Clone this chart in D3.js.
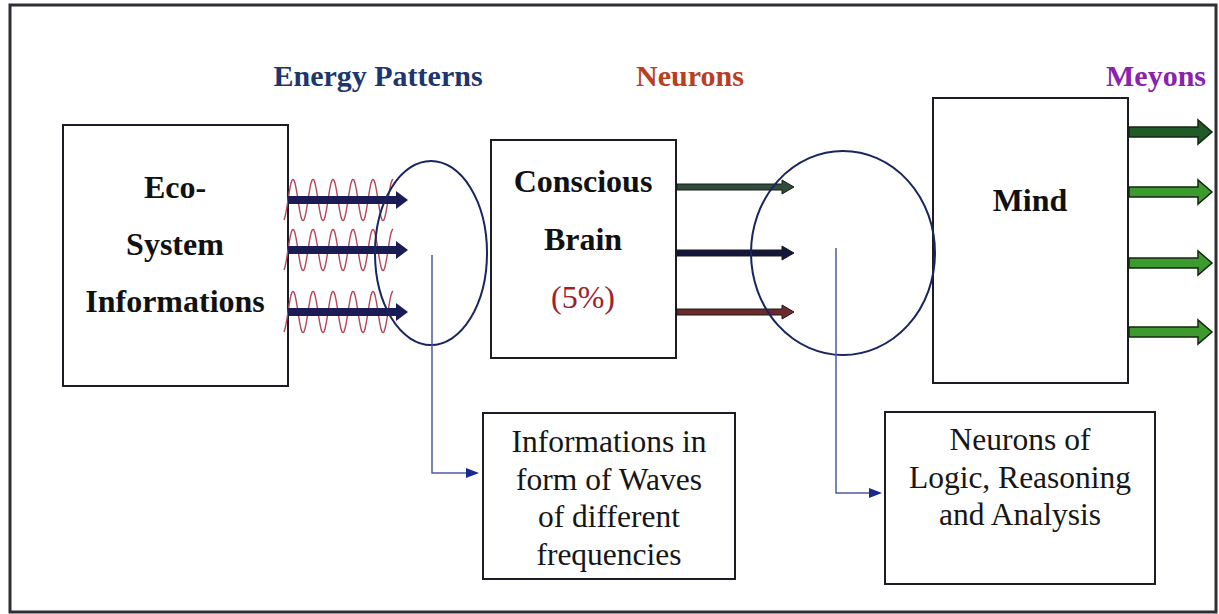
<!DOCTYPE html>
<html>
<head>
<meta charset="utf-8">
<script src="https://cdn.jsdelivr.net/npm/d3@7"></script>
<style>
  body { margin: 0; background: #fff; }
  text { font-family: "Liberation Serif", "Times New Roman", serif; }
</style>
</head>
<body>
<svg></svg>
<script>
// labels
var headers = ["Energy Patterns", "Neurons", "Meyons"];
var headerColors = ["#1d3570", "#b8401f", "#8a22b0"];
var ecoLines = ["Eco-", "System", "Informations"];
var brainLines = ["Conscious", "Brain"];
var brainShare = "(5%)";
var mindLines = ["Mind"];
var waveNote = ["Informations in", "form of Waves", "of different", "frequencies"];
var neuronNote = ["Neurons of", "Logic, Reasoning", "and Analysis"];

// arrow rows
var energyRows = ["wave 1", "wave 2", "wave 3"];
var neuronRows = ["logic", "reasoning", "analysis"];
var neuronColors = ["#2f4d3c", "#15163c", "#6c2a2a"];
var meyonRows = ["m1", "m2", "m3", "m4"];
var meyonColors = ["#1f5a27", "#3d9a2e", "#3d9a2e", "#3d9a2e"];

var screen = {width: 1219, height: 614};
var svg = d3.select("svg")
  .attr("width", screen.width)
  .attr("height", screen.height);

// layout
var energyY = d3.scaleOrdinal().domain(energyRows).range([200, 250, 312]);
var neuronY = d3.scaleOrdinal().domain(neuronRows).range([187, 253, 312]);
var meyonY = d3.scaleOrdinal().domain(meyonRows).range([132, 192, 263, 332]);

// outer frame
svg.append("rect")
  .attr("x", 10).attr("y", 5)
  .attr("width", 1206).attr("height", 607)
  .attr("fill", "none").attr("stroke", "#2e2e36").attr("stroke-width", 3);

// header labels
var headerX = d3.scaleOrdinal().domain(headers).range([378, 690, 1156]);
svg.selectAll(".hdr")
  .data(headers)
  .enter()
  .append("text")
  .attr("class", "hdr")
  .attr("x", function(d){ return headerX(d); })
  .attr("y", 86)
  .attr("text-anchor", "middle")
  .attr("font-size", 30)
  .attr("font-weight", "bold")
  .attr("fill", function(d, i){ return headerColors[i]; })
  .text(function(d){ return d; });

var drawBox = function(x, y, w, h){
  svg.append("rect")
    .attr("x", x).attr("y", y)
    .attr("width", w).attr("height", h)
    .attr("fill", "#fff").attr("stroke", "#1c1c24").attr("stroke-width", 2);
};

var drawLines = function(lines, cx, y0, step, size, weight, color){
  svg.append("g").selectAll("text")
    .data(lines)
    .enter()
    .append("text")
    .attr("x", cx)
    .attr("y", function(d, i){ return y0 + i * step; })
    .attr("text-anchor", "middle")
    .attr("font-size", size)
    .attr("font-weight", weight)
    .attr("fill", color)
    .text(function(d){ return d; });
};

// main boxes
drawBox(63, 125, 225, 261);
drawLines(ecoLines, 175, 198, 57, 32, "bold", "#111");

drawBox(491, 140, 185, 218);
drawLines(brainLines, 583, 192, 58, 32, "bold", "#111");
drawLines([brainShare], 583, 308, 0, 32, "normal", "#a0202c");

drawBox(933, 98, 195, 285);
drawLines(mindLines, 1030, 211, 0, 32, "bold", "#111");

// note boxes
drawBox(483, 413, 252, 166);
drawLines(waveNote, 609, 452, 37.5, 31.5, "normal", "#161616");

drawBox(885, 412, 270, 172);
drawLines(neuronNote, 1020, 450, 37.5, 31.5, "normal", "#161616");

// energy waves (drawn under the arrows)
var waveLine = d3.line().curve(d3.curveBasis);
energyRows.forEach(function(r){
  var y = energyY(r);
  var pts = d3.range(284, 394, 1).map(function(x){
    return [x, y - 21 * Math.cos((x - 293) / 20 * 2 * Math.PI)];
  });
  svg.append("path")
    .attr("d", waveLine(pts))
    .attr("fill", "none")
    .attr("stroke", "#b8475a")
    .attr("stroke-width", 1.4);
});

// energy arrows
svg.selectAll(".earrow")
  .data(energyRows)
  .enter()
  .append("g")
  .attr("class", "earrow")
  .each(function(r){
    var y = energyY(r);
    var g = d3.select(this);
    g.append("line")
      .attr("x1", 288).attr("x2", 399)
      .attr("y1", y).attr("y2", y)
      .attr("stroke", "#1b1b55").attr("stroke-width", 8);
    g.append("path")
      .attr("d", d3.line()([[396, y - 9], [408, y], [396, y + 9]]) + "Z")
      .attr("fill", "#1b1b55");
  });

// ellipses
svg.append("ellipse")
  .attr("cx", 431).attr("cy", 253).attr("rx", 56).attr("ry", 92)
  .attr("fill", "none").attr("stroke", "#1a2560").attr("stroke-width", 2);

// neuron arrows
var blockArrow = function(x0, x1, y, shaft, head, headLen){
  return d3.line()([
    [x0, y - shaft], [x1 - headLen, y - shaft], [x1 - headLen, y - head],
    [x1, y], [x1 - headLen, y + head], [x1 - headLen, y + shaft], [x0, y + shaft]
  ]) + "Z";
};

svg.selectAll(".narrow")
  .data(neuronRows)
  .enter()
  .append("path")
  .attr("class", "narrow")
  .attr("d", function(r){ return blockArrow(677, 794, neuronY(r), 3, 7, 12); })
  .attr("fill", function(r, i){ return neuronColors[i]; })
  .attr("stroke", "#1a1a1a")
  .attr("stroke-width", 1);

svg.append("ellipse")
  .attr("cx", 843).attr("cy", 253).attr("rx", 92).attr("ry", 102)
  .attr("fill", "none").attr("stroke", "#1a2560").attr("stroke-width", 2);

// meyon arrows
svg.selectAll(".marrow")
  .data(meyonRows)
  .enter()
  .append("path")
  .attr("class", "marrow")
  .attr("d", function(r){ return blockArrow(1129, 1212, meyonY(r), 5, 12, 14); })
  .attr("fill", function(r, i){ return meyonColors[i]; })
  .attr("stroke", "#14280f")
  .attr("stroke-width", 1.5);

// connectors from ellipses to note boxes
var connector = function(x, y0, y1, x1){
  svg.append("path")
    .attr("d", d3.line()([[x, y0], [x, y1], [x1 - 11, y1]]))
    .attr("fill", "none")
    .attr("stroke", "#4d5c9c")
    .attr("stroke-width", 1.5);
  svg.append("path")
    .attr("d", d3.line()([[x1 - 13, y1 - 5], [x1, y1], [x1 - 13, y1 + 5]]) + "Z")
    .attr("fill", "#1a2a8a");
};
connector(432, 255, 473, 479);
connector(836, 248, 493, 882);
</script>
</body>
</html>
